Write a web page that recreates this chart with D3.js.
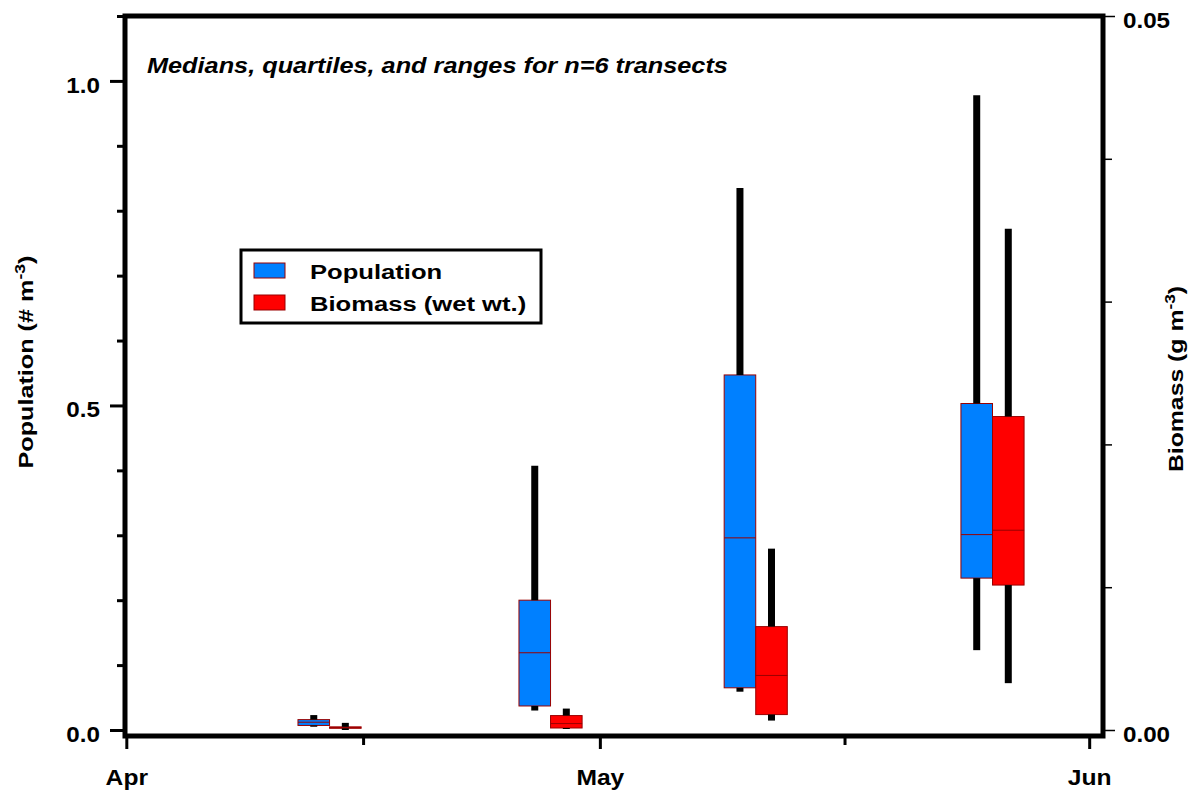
<!DOCTYPE html>
<html>
<head>
<meta charset="utf-8">
<script src="https://cdn.jsdelivr.net/npm/d3@7"></script>
<style>
  body { margin: 0; background: #fff; }
  svg { display: block; font-family: "Liberation Sans", Arial, sans-serif; font-weight: bold; }
</style>
</head>
<body>
<svg id="chart" width="1189" height="794"></svg>
<script>
// sampling dates (one pair of boxes per date)
var dates = ["2001-04-13T21:00", "2001-04-27T21:00", "2001-05-10T21:00", "2001-05-25T21:00"];

// population, # m-3
var popMin = [0.005, 0.030, 0.059, 0.123],
  popQ1 = [0.007, 0.037, 0.065, 0.234],
  popMed = [0.012, 0.119, 0.296, 0.301],
  popQ3 = [0.016, 0.200, 0.547, 0.503],
  popMax = [0.023, 0.407, 0.835, 0.978];

// biomass (wet wt.), g m-3
var bioMin = [0.0000, 0.00007, 0.00066, 0.00328],
  bioQ1 = [0.00012, 0.00014, 0.00108, 0.01015],
  bioMed = [0.00017, 0.00045, 0.00382, 0.01399],
  bioQ3 = [0.00022, 0.00101, 0.00724, 0.02195],
  bioMax = [0.0005, 0.0015, 0.0127, 0.0351];

var popTicks = [0, 0.5, 1.0],
  popMinor = [0.1, 0.2, 0.3, 0.4, 0.6, 0.7, 0.8, 0.9, 1.1],
  bioTicks = [0, 0.05],
  bioMinor = [0.01, 0.02, 0.03, 0.04],
  monthTicks = ["2001-04-01", "2001-05-01", "2001-06-01"],
  midTicks = ["2001-04-16T00:00", "2001-05-16T12:00"];

var legendLabels = ["Population", "Biomass (wet wt.)"];
var blue = "#0080ff", red = "#ff0000", edge = "#990000";

var svg = d3.select("#chart"),
  plot = { left: 125, right: 1103, top: 16, zero: 730, bottom: 736 };

var parse = function(s) { return new Date(s); };

var x = d3.scaleTime()
  .domain([d3.timeHour.offset(parse("2001-04-01T00:00"), -2), d3.timeHour.offset(parse("2001-06-01T00:00"), 21)])
  .range([plot.left, plot.right]);
var yPop = d3.scaleLinear().domain([0, 1.1]).range([plot.zero, plot.top]);
var yBio = d3.scaleLinear().domain([0, 0.05]).range([plot.zero, plot.top]);

function stretch(sel, sx) {
  sel.each(function() {
    var t = d3.select(this);
    var tx = +t.attr("x") || 0;
    t.attr("x", 0).attr("transform", "translate(" + tx + ",0) scale(" + sx + ",1)");
  });
}

// boxes
var groups = dates.map(function(d, i) {
  return [
    { t0: d3.timeDay.offset(parse(d), -2), t1: parse(d), y: yPop, fill: blue,
      min: popMin[i], q1: popQ1[i], med: popMed[i], q3: popQ3[i], max: popMax[i] },
    { t0: parse(d), t1: d3.timeDay.offset(parse(d), 2), y: yBio, fill: red,
      min: bioMin[i], q1: bioQ1[i], med: bioMed[i], q3: bioQ3[i], max: bioMax[i] }
  ];
});
var boxes = [].concat.apply([], groups);

var bx = svg.append("g").attr("class", "boxes")
  .selectAll("g").data(boxes).enter().append("g");

bx.append("rect")
  .attr("x", function(d) { return x(d.t0); })
  .attr("width", function(d) { return x(d.t1) - x(d.t0); })
  .attr("y", function(d) { return d.y(d.q3); })
  .attr("height", function(d) { return Math.max(0.5, d.y(d.q1) - d.y(d.q3)); })
  .attr("fill", function(d) { return d.fill; })
  .attr("stroke", edge)
  .attr("stroke-width", 1);

bx.append("line")
  .attr("x1", function(d) { return x(d.t0); })
  .attr("x2", function(d) { return x(d.t1); })
  .attr("y1", function(d) { return d.y(d.med); })
  .attr("y2", function(d) { return d.y(d.med); })
  .attr("stroke", edge)
  .attr("stroke-width", 1);

// whiskers
function mid(d) { return (x(d.t0) + x(d.t1)) / 2; }
bx.append("line")
  .attr("x1", mid).attr("x2", mid)
  .attr("y1", function(d) { return d.y(d.max); })
  .attr("y2", function(d) { return d.y(d.q3); })
  .attr("stroke", "#000").attr("stroke-width", 7);
bx.append("line")
  .attr("x1", mid).attr("x2", mid)
  .attr("y1", function(d) { return d.y(d.q1); })
  .attr("y2", function(d) { return d.y(d.min); })
  .attr("stroke", "#000").attr("stroke-width", 7);

// left axis
var left = svg.append("g").attr("transform", "translate(" + plot.left + ",0)");
left.append("g")
  .call(d3.axisLeft(yPop).tickValues(popTicks).tickFormat(d3.format(".1f")).tickSize(15).tickPadding(10))
  .call(function(g) {
    g.select(".domain").remove();
    g.selectAll("line").attr("stroke-width", 3);
    g.selectAll("text").attr("font-size", 22).attr("fill", "#000").attr("dy", "0.52em");
    stretch(g.selectAll("text"), 1.1);
  });
left.append("g")
  .call(d3.axisLeft(yPop).tickValues(popMinor).tickFormat("").tickSize(8))
  .call(function(g) {
    g.select(".domain").remove();
    g.selectAll("line").attr("stroke-width", 3);
  });

// right axis
var right = svg.append("g").attr("transform", "translate(" + plot.right + ",0)");
right.append("g")
  .call(d3.axisRight(yBio).tickValues(bioTicks).tickFormat(d3.format(".2f")).tickSize(12).tickPadding(8))
  .call(function(g) {
    g.select(".domain").remove();
    g.selectAll("line").attr("stroke-width", 1.5);
    g.selectAll("text").attr("font-size", 22).attr("fill", "#000").attr("dy", "0.52em");
    stretch(g.selectAll("text"), 1.1);
  });
right.append("g")
  .call(d3.axisRight(yBio).tickValues(bioMinor).tickFormat("").tickSize(9))
  .call(function(g) {
    g.select(".domain").remove();
    g.selectAll("line").attr("stroke-width", 1.5);
  });

// bottom axis
var bottom = svg.append("g").attr("transform", "translate(0," + plot.bottom + ")");
bottom.append("g")
  .call(d3.axisBottom(x).tickValues(monthTicks.map(parse)).tickFormat(d3.timeFormat("%b")).tickSize(13).tickPadding(20))
  .call(function(g) {
    g.select(".domain").remove();
    g.selectAll("line").attr("stroke-width", 3);
    g.selectAll("text").attr("font-size", 22).attr("fill", "#000");
    g.selectAll("text").each(function() {
      var t = d3.select(this);
      var ty = +t.attr("y");
      t.attr("y", 0).attr("transform", "translate(0," + ty + ") scale(1.12,1)");
    });
  });
bottom.append("g")
  .call(d3.axisBottom(x).tickValues(midTicks.map(parse)).tickFormat("").tickSize(9))
  .call(function(g) {
    g.select(".domain").remove();
    g.selectAll("line").attr("stroke-width", 3);
  });

// frame
svg.append("rect")
  .attr("x", plot.left).attr("y", plot.top)
  .attr("width", plot.right - plot.left).attr("height", plot.bottom - plot.top)
  .attr("fill", "none").attr("stroke", "#000").attr("stroke-width", 5);

// note
svg.append("text")
  .attr("transform", "translate(147,73) scale(1.15,1)")
  .attr("font-size", 22).attr("font-style", "italic")
  .text("Medians, quartiles, and ranges for n=6 transects");

// axis titles
var yl = svg.append("text")
  .attr("transform", "translate(33,362) rotate(-90) scale(1.26,1)")
  .attr("text-anchor", "middle").attr("font-size", 20);
yl.append("tspan").text("Population (# m");
yl.append("tspan").attr("dy", -8).attr("font-size", 14).text("-3");
yl.append("tspan").attr("dy", 8).text(")");

var yr = svg.append("text")
  .attr("transform", "translate(1183,379) rotate(-90) scale(1.24,1)")
  .attr("text-anchor", "middle").attr("font-size", 20);
yr.append("tspan").text("Biomass (g m");
yr.append("tspan").attr("dy", -8).attr("font-size", 14).text("-3");
yr.append("tspan").attr("dy", 8).text(")");

// legend
var legend = svg.append("g").attr("transform", "translate(241,250)");
legend.append("rect")
  .attr("width", 300).attr("height", 73)
  .attr("fill", "#fff").attr("stroke", "#000").attr("stroke-width", 3);
var li = legend.selectAll("g.item").data(legendLabels).enter().append("g")
  .attr("class", "item")
  .attr("transform", function(d, i) { return "translate(0," + i * 32 + ")"; });
li.append("rect")
  .attr("x", 13).attr("y", 13).attr("width", 31).attr("height", 15)
  .attr("fill", function(d, i) { return i === 0 ? blue : red; })
  .attr("stroke", edge).attr("stroke-width", 1);
li.append("text")
  .attr("transform", "translate(69,29) scale(1.28,1)")
  .attr("font-size", 20)
  .text(function(d) { return d; });
</script>
</body>
</html>
